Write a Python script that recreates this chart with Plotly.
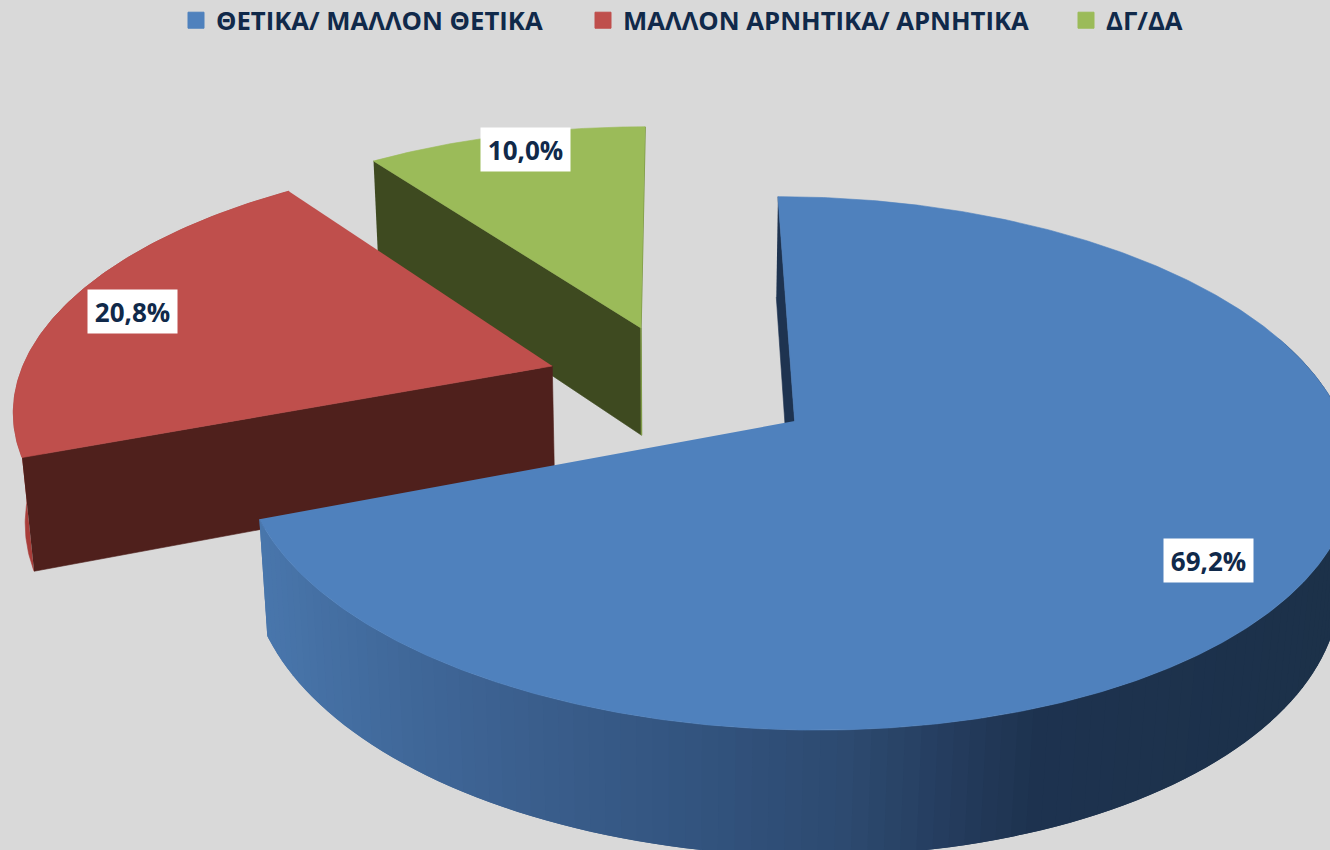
import numpy as np
import plotly.graph_objects as go

# ---- data ----
categories = ["ΘΕΤΙΚΑ/ ΜΑΛΛΟΝ ΘΕΤΙΚΑ", "ΜΑΛΛΟΝ ΑΡΝΗΤΙΚΑ/ ΑΡΝΗΤΙΚΑ", "ΔΓ/ΔΑ"]
values = [69.2, 20.8, 10.0]

# ---- style ----
top_colors = ["#4F81BD", "#BF4F4C", "#9BBB59"]
face_colors = ["#1E3350", "#4F201C", "#3E4A20"]
rim_stops_x = [255, 400, 550, 700, 850, 950, 1030, 1340]
rim_stops_c = ["#4A78AE", "#41699B", "#3A5E8C", "#33547F", "#2D4A70", "#253D5E", "#1E3350", "#1C3149"]
red_rim = "#A83D39"
green_edge = "#7F9A48"
text_color = "#10294A"
bg = "#D9D9D9"

explode = [(0.222, -0.151), (-0.228, 0.068), (-0.062, 0.2285)]
label_place = [(1.5, 0.84), (-1.0, 0.86), (1.3, 0.908)]   # angle shift, radius
legend_x = [176, 583, 1066]

CX, CY, A, B, K, Q, D = 673.0, 382.7, 535.0, 248.0, 0.155, 0.018, 112.0


def project(X, Y, Z=0.0):
    w = 1 + K * np.asarray(Y) + Q * Z
    return CX + A * np.asarray(X) / w, CY + (-B * np.asarray(Y) + D * Z) / w


def hex2rgb(h):
    return np.array([int(h[i:i + 2], 16) for i in (1, 3, 5)], float)


def rim_color(x):
    rgb = [np.interp(x, rim_stops_x, [hex2rgb(c)[i] for c in rim_stops_c]) for i in range(3)]
    return "rgb(%d,%d,%d)" % tuple(rgb)


def poly(xs, ys, color, lw=0.6):
    return go.Scatter(x=list(xs), y=list(ys), mode="lines", fill="toself", fillcolor=color,
                      line=dict(color=color, width=lw), hoverinfo="skip", showlegend=False)


total = sum(values)
edges = np.concatenate([[0], np.cumsum(values)]) * 360.0 / total
fig = go.Figure()

for i in [2, 1, 0]:
    a0, a1 = edges[i], edges[i + 1]
    ex, ey = explode[i]
    deg = np.linspace(a0, a1, int((a1 - a0) * 2) + 2)
    ang = np.radians(deg)
    ox, oy = ex + np.sin(ang), ey + np.cos(ang)

    # outer rim: strips overlap the next one so no seams show
    if i == 0:
        step = 3
        start = int(np.searchsorted(deg, 70))
        for j in range(start, len(ang) - 1, step):
            X, Y = ox[j:j + 2 * step + 1], oy[j:j + 2 * step + 1]
            tx, ty = project(X, Y)
            bx, by = project(X, Y, 1.0)
            k = min(j + step // 2, len(ox) - 1)
            col = rim_color(project(ox[k], oy[k], 1.0)[0])
            fig.add_trace(poly(np.r_[tx, bx[::-1]], np.r_[ty, by[::-1]], col, lw=0))
    elif i == 1:
        tx, ty = project(ox, oy)
        bx, by = project(ox, oy, 1.0)
        fig.add_trace(poly(np.r_[tx, bx[::-1]], np.r_[ty, by[::-1]], red_rim))

    # radial face at the start angle
    qx = np.array([ox[0], ex, ex, ox[0]])
    qy = np.array([oy[0], ey, ey, oy[0]])
    qz = np.array([0, 0, 1.0, 1.0])
    fx, fy = zip(*[project(qx[k], qy[k], qz[k]) for k in range(4)])
    fig.add_trace(poly(fx, fy, face_colors[i]))

    # green's thin end edge
    if i == 2:
        lx, ly = zip(*[project(ox[-1], oy[-1]), project(ex, ey), project(ex, ey, 1.0)])
        fig.add_trace(go.Scatter(x=list(lx), y=list(ly), mode="lines", hoverinfo="skip",
                                 showlegend=False, line=dict(color=green_edge, width=1.5)))

    # top face
    tx, ty = project(np.r_[ex, ox], np.r_[ey, oy])
    fig.add_trace(poly(tx, ty, top_colors[i]))

# value labels
for i in range(3):
    mid = (edges[i] + edges[i + 1]) / 2 + label_place[i][0]
    r = label_place[i][1]
    lx, ly = project(explode[i][0] + r * np.sin(np.radians(mid)), explode[i][1] + r * np.cos(np.radians(mid)))
    fig.add_annotation(x=float(lx), y=float(ly), xref="x", yref="y", showarrow=False,
                       text=f"{values[i]:.1f}%".replace(".", ","), bgcolor="white",
                       width=89, height=43, borderpad=0, align="center", valign="middle",
                       font=dict(family="Open Sans", size=26, color=text_color, weight="bold"))

# legend entries, one legend each so they sit at their own spots
names = ["legend", "legend2", "legend3"]
for i in range(3):
    fig.add_trace(go.Scatter(x=[None], y=[None], mode="markers", name=categories[i], legend=names[i],
                             marker=dict(symbol="square", size=16, color=top_colors[i],
                                         line=dict(width=1, color=top_colors[i]))))

leg = dict(
    y=1.0, yanchor="top", xanchor="left", bgcolor="rgba(0,0,0,0)", borderwidth=0,
    orientation="h",
    font=dict(family="Open Sans", size=25.7, color=text_color, weight="bold"),
)

fig.update_layout(
    width=1330, height=850, margin=dict(l=0, r=0, t=0, b=0),
    paper_bgcolor=bg, plot_bgcolor=bg,
    xaxis=dict(range=[0, 1330], visible=False, fixedrange=True),
    yaxis=dict(range=[850, 0], visible=False, fixedrange=True),
    legend=dict(x=legend_x[0] / 1330, **leg),
    legend2=dict(x=legend_x[1] / 1330, **leg),
    legend3=dict(x=legend_x[2] / 1330, **leg),
)

# plotly keeps a legend inside the page, so lift the row the last few pixels here
post = """
document.body.style.margin='0';document.body.style.overflow='hidden';
document.querySelectorAll('g.legend, g.legend2, g.legend3').forEach(function(g){
  var m=/translate\\(([-\\d.]+)[ ,]+([-\\d.]+)\\)/.exec(g.getAttribute('transform'));
  if(m){g.setAttribute('transform','translate('+m[1]+','+(parseFloat(m[2])-3)+')');}
});
"""
fig.write_html("out.html", config={"displayModeBar": False}, post_script=post)
